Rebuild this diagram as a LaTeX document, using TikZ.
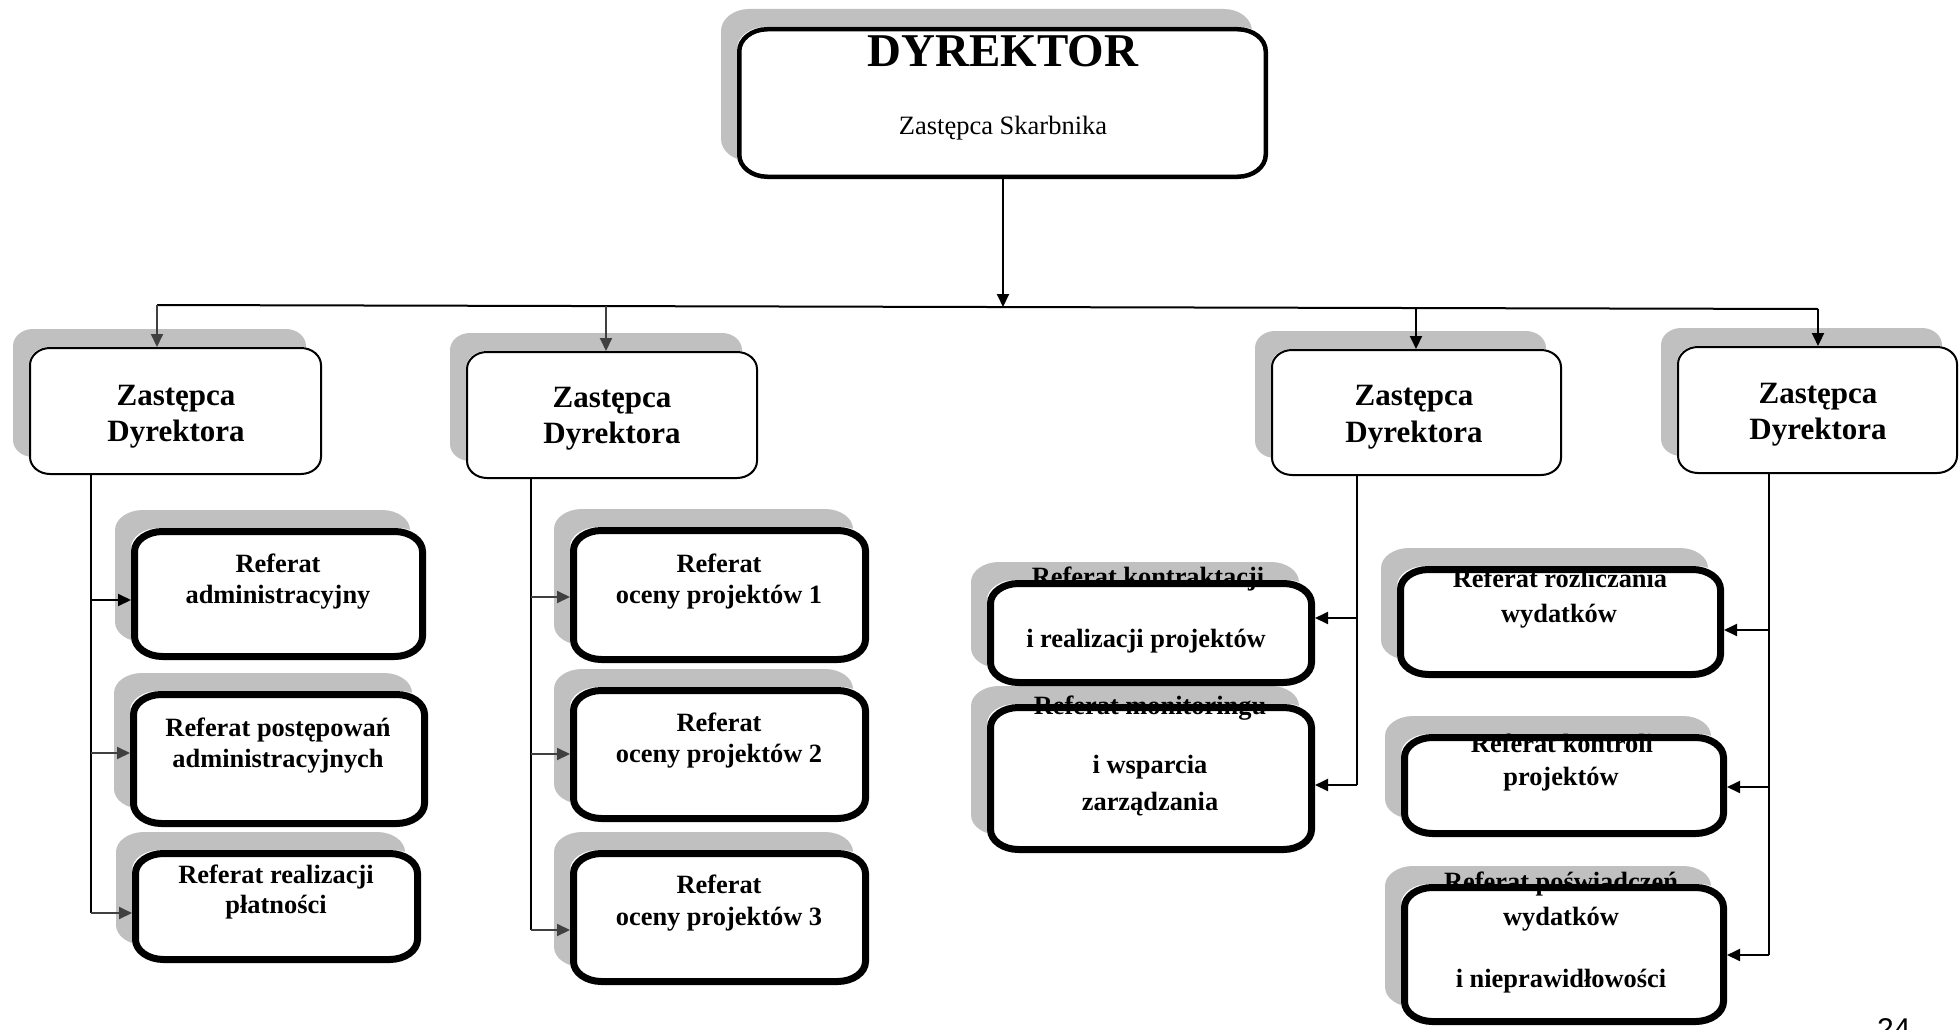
\documentclass[tikz,border=0pt]{standalone}
\usepackage{fontspec}
\setmainfont{Liberation Serif}
\newfontfamily\pagefont{Liberation Sans}
\usetikzlibrary{arrows.meta}
\pgfdeclarelayer{bg}\pgfdeclarelayer{fg}\pgfsetlayers{bg,main,fg}
\definecolor{shadowgray}{HTML}{C0C0C0}
\definecolor{darkline}{HTML}{404040}
\newcommand\rxv{26}
\newcommand\ryv{20}
% rounded rectangle path with elliptical corners: left, top, right, bottom
\newcommand\rpath[4]{({#1+\rxv},{#2}) -- ({#3-\rxv},{#2}) .. controls ({#3-0.45*\rxv},{#2}) and ({#3},{#2+0.45*\ryv}) .. ({#3},{#2+\ryv}) -- ({#3},{#4-\ryv}) .. controls ({#3},{#4-0.45*\ryv}) and ({#3-0.45*\rxv},{#4}) .. ({#3-\rxv},{#4}) -- ({#1+\rxv},{#4}) .. controls ({#1+0.45*\rxv},{#4}) and ({#1},{#4-0.45*\ryv}) .. ({#1},{#4-\ryv}) -- ({#1},{#2+\ryv}) .. controls ({#1},{#2+0.45*\ryv}) and ({#1+0.45*\rxv},{#2}) .. ({#1+\rxv},{#2}) -- cycle}
% box: name, left, top, right, bottom (outer), border width
\newcommand\orgbox[6]{%
  \begin{pgfonlayer}{bg}
    \fill[shadowgray] \rpath{#2-16}{#3-18}{#4-16}{#5-18};
    \fill[white] \rpath{#2}{#3}{#4}{#5};
  \end{pgfonlayer}
  \node[boxnode, minimum width={#4-#2}, minimum height={#5-#3}] (#1) at ({(#2+#4)/2},{(#3+#5)/2}) {};
  \begin{pgfonlayer}{fg}
    \draw[line width=#6pt] \rpath{#2+#6/2}{#3+#6/2}{#4-#6/2}{#5-#6/2};
  \end{pgfonlayer}}
\begin{document}
\begin{tikzpicture}[x=1pt,y=-1pt,
  boxnode/.style={shape=rectangle, inner sep=0pt, outer sep=0pt, draw=none},
  ttl/.style={font=\bfseries\fontsize{31}{36}\selectfont, anchor=base, inner sep=0pt},
  txt/.style={font=\bfseries\fontsize{26.4}{31}\selectfont, anchor=base, inner sep=0pt},
  conn/.style={line width=2pt},
  arr/.style={line width=2pt, -{Triangle[length=13pt,width=12pt]}},
  garr/.style={arr, color=darkline}]
\useasboundingbox (0,0) rectangle (1959,1030);

% ---- director
\def\rxv{28}\def\ryv{22}
\orgbox{dyr}{737}{27}{1268}{179}{4.5}
\node[font=\bfseries\fontsize{47}{56}\selectfont, anchor=base, inner sep=0pt] (dyrT) at (1003,67) {DYREKTOR};
\node[font=\fontsize{26.5}{31}\selectfont, anchor=base, inner sep=0pt] (dyrS) at (1003,135) {Zastępca Skarbnika};

% ---- deputies
\def\rxv{20}\def\ryv{17}
\orgbox{z1}{29}{347}{322}{475}{2}
\orgbox{z2}{466}{351}{758}{479}{2}
\orgbox{z3}{1271}{349}{1562}{476}{2}
\orgbox{z4}{1677}{346}{1958}{474}{2}
\node[ttl] (z1a) at (176,405) {Zastępca};
\node[ttl] (z1b) at (176,441) {Dyrektora};
\node[ttl] (z2a) at (612,407) {Zastępca};
\node[ttl] (z2b) at (612,443) {Dyrektora};
\node[ttl] (z3a) at (1414,405) {Zastępca};
\node[ttl] (z3b) at (1414,442) {Dyrektora};
\node[ttl] (z4a) at (1818,403) {Zastępca};
\node[ttl] (z4b) at (1818,439) {Dyrektora};

% ---- units
\def\rxv{28}\def\ryv{20}
\orgbox{r1}{131}{528}{426}{660}{7}
\orgbox{r2}{130}{691}{428}{827}{7}
\orgbox{r3}{132}{850}{421}{963}{7}
\orgbox{r4}{570}{527}{869}{663}{7}
\orgbox{r5}{570}{687}{869}{822}{7}
\orgbox{r6}{570}{850}{869}{985}{7}
\orgbox{r7}{987}{580}{1315}{686}{7}
\orgbox{r8}{987}{704}{1315}{853}{7}
\orgbox{r9}{1397}{566}{1724}{678}{7}
\orgbox{r10}{1401}{734}{1727}{837}{7}
\orgbox{r11}{1401}{884}{1727}{1025}{7}

\node[txt] (r1a) at (278,572) {Referat};
\node[txt] (r1b) at (278,603) {administracyjny};
\node[txt] (r2a) at (278,736) {Referat postępowań};
\node[txt] (r2b) at (278,767) {administracyjnych};
\node[txt] (r3a) at (276,883) {Referat realizacji};
\node[txt] (r3b) at (276,913) {płatności};
\node[txt] (r4a) at (719,572) {Referat};
\node[txt] (r4b) at (719,603) {oceny projektów 1};
\node[txt] (r5a) at (719,731) {Referat};
\node[txt] (r5b) at (719,762) {oceny projektów 2};
\node[txt] (r6a) at (719,893) {Referat};
\node[txt] (r6b) at (719,925) {oceny projektów 3};
\node[txt] (r7a) at (1148,585) {Referat kontraktacji};
\node[txt] (r7b) at (1146,647) {i realizacji projektów};
\node[txt] (r8a) at (1150,714) {Referat monitoringu};
\node[txt] (r8b) at (1150,773) {i wsparcia};
\node[txt] (r8c) at (1150,810) {zarządzania};
\node[txt] (r9a) at (1560,587) {Referat rozliczania};
\node[txt] (r9b) at (1559,622) {wydatków};
\node[txt] (r10a) at (1562,752) {Referat kontroli};
\node[txt] (r10b) at (1561,785) {projektów};
\node[txt] (r11a) at (1561,890) {Referat poświadczeń};
\node[txt] (r11b) at (1561,925) {wydatków};
\node[txt] (r11c) at (1561,987) {i nieprawidłowości};

% ---- connectors
\coordinate (hl1) at (157,305);
\coordinate (hl4) at (1818,309);
\coordinate (hd) at (1003,307);
\coordinate (hz2) at (606,306);
\coordinate (hz3) at (1416,308);
\draw[conn] (hl1) -- (hl4);
\draw[arr] (hd |- dyr.south) -- (hd);
\draw[garr] (hl1) -- (hl1 |- z1.north);
\draw[garr] (hz2) -- (hz2 |- z2.north);
\draw[arr] (hz3) -- (hz3 |- z3.north);
\draw[arr] (hl4) -- (hl4 |- z4.north);

\coordinate (c1a) at (91,600);
\coordinate (c1b) at (91,753);
\coordinate (c1c) at (91,913);
\draw[conn] (c1a |- z1.south) -- (c1c);
\draw[arr] (c1a) -- (c1a -| r1.west);
\draw[garr] (c1b) -- (c1b -| r2.west);
\draw[garr] (c1c) -- (c1c -| r3.west);

\coordinate (c2a) at (531,597);
\coordinate (c2b) at (531,754);
\coordinate (c2c) at (531,930);
\draw[conn] (c2a |- z2.south) -- (c2c);
\draw[garr] (c2a) -- (c2a -| r4.west);
\draw[garr] (c2b) -- (c2b -| r5.west);
\draw[garr] (c2c) -- (c2c -| r6.west);

\coordinate (c3a) at (1357,618);
\coordinate (c3b) at (1357,785);
\draw[conn] (c3a |- z3.south) -- (c3b);
\draw[arr] (c3a) -- (c3a -| r7.east);
\draw[arr] (c3b) -- (c3b -| r8.east);

\coordinate (c4a) at (1769,630);
\coordinate (c4b) at (1769,787);
\coordinate (c4c) at (1769,955);
\draw[conn] (c4a |- z4.south) -- (c4c);
\draw[arr] (c4a) -- (c4a -| r9.east);
\draw[arr] (c4b) -- (c4b -| r10.east);
\draw[arr] (c4c) -- (c4c -| r11.east);

% ---- page number
\node[font=\pagefont\fontsize{30}{36}\selectfont, anchor=base west, inner sep=0pt] (pg) at (1877,1039) {24};
\end{tikzpicture}
\end{document}
